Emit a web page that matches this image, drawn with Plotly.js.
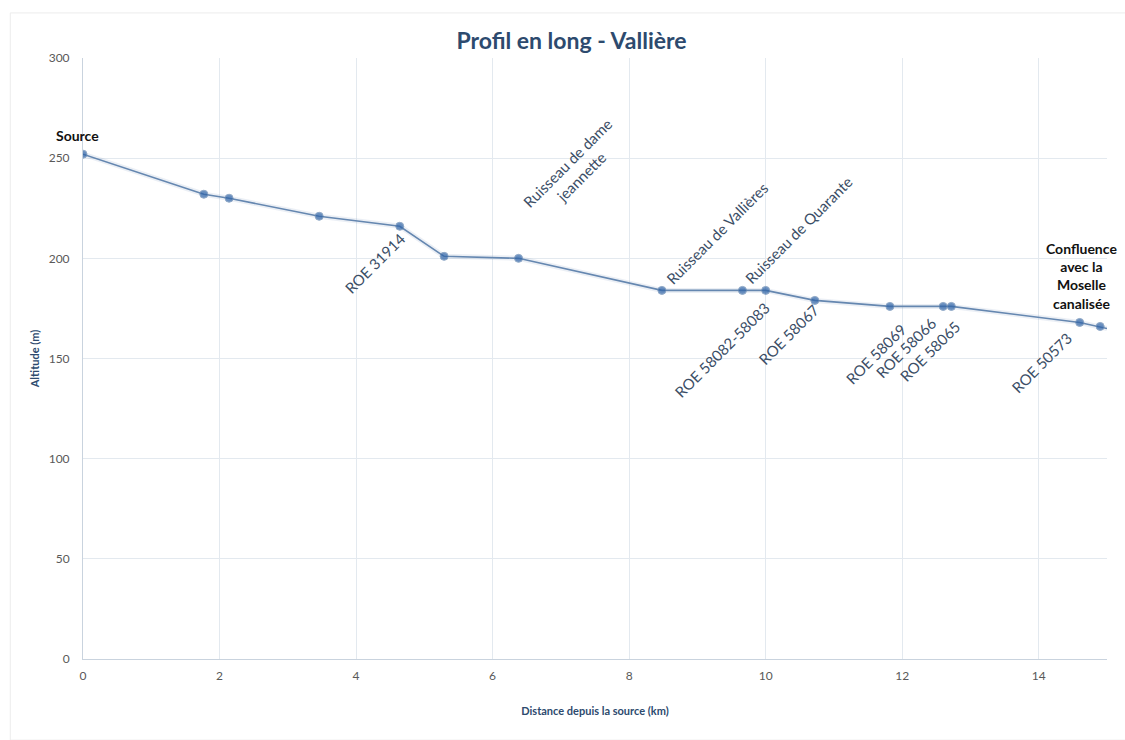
<!DOCTYPE html>
<html>
<head>
<meta charset="utf-8">
<script src="https://cdn.plot.ly/plotly-3.0.1.min.js"></script>
<style>html,body{margin:0;padding:0;background:#fff}#chart{width:1125px;height:740px}</style>
</head>
<body>
<div id="chart"></div>
<script>
// Data
const distanceKm = [0, 1.77, 2.14, 3.46, 4.64, 5.29, 6.38, 8.48, 9.66, 10.0, 10.72, 11.82, 12.6, 12.72, 14.6, 14.9, 15.0];
const altitudeM  = [252, 232, 230, 221, 216, 201, 200, 184, 184, 184, 179, 176, 176, 176, 168, 166, 165];
const pointLabels = ["Source", "", "", "", "ROE 31914", "", "Ruisseau de dame<br>jeannette", "Ruisseau de Vallières",
  "Ruisseau de Quarante", "ROE 58082-58083", "ROE 58067", "ROE 58069", "ROE 58066", "ROE 58065", "ROE 50573",
  "Confluence<br>avec la<br>Moselle<br>canalisée", ""];
const xTicks = [0, 2, 4, 6, 8, 10, 12, 14];
const yTicks = [0, 50, 100, 150, 200, 250, 300];

// placement style per label kind
const place = {
  "Source": {kind: "bold", xanchor: "center", yanchor: "bottom", xshift: -6, yshift: 8},
  "ROE 31914": {kind: "below", xshift: 12, yshift: 0},
  "Ruisseau de dame<br>jeannette": {kind: "above", xshift: -2, yshift: 30},
  "Ruisseau de Vallières": {kind: "above", xshift: -2, yshift: 0},
  "Ruisseau de Quarante": {kind: "above", xshift: -4, yshift: 0},
  "ROE 58082-58083": {kind: "below", xshift: 10, yshift: -6},
  "ROE 58067": {kind: "below", xshift: 11, yshift: 3},
  "ROE 58069": {kind: "below", xshift: 22, yshift: -11},
  "ROE 58066": {kind: "below", xshift: 0, yshift: -4},
  "ROE 58065": {kind: "below", xshift: 15, yshift: -8},
  "ROE 50573": {kind: "below", xshift: -2, yshift: -4},
  "Confluence<br>avec la<br>Moselle<br>canalisée": {kind: "bold", xanchor: "center", yanchor: "bottom", xshift: -19, yshift: 12}
};

const annotations = [];
pointLabels.forEach((t, i) => {
  if (!t) return;
  const p = place[t];
  const a = {x: distanceKm[i], y: altitudeM[i], xref: "x", yref: "y", text: t, showarrow: false,
    xshift: p.xshift, yshift: p.yshift};
  if (p.kind === "bold") {
    a.text = "<b>" + t + "</b>";
    a.xanchor = p.xanchor; a.yanchor = p.yanchor;
    a.font = {family: "Lato, 'Open Sans', sans-serif", size: 14, color: "#111111"};
    a.align = "center";
  } else {
    a.textangle = -45;
    a.font = {family: "Lato, 'Open Sans', sans-serif", size: 15, color: "#3b4e66"};
    if (p.kind === "below") { a.xanchor = "right"; a.yanchor = "top"; }
    else { a.xanchor = "left"; a.yanchor = "bottom"; }
    a.align = "center";
  }
  annotations.push(a);
});

const markerSizes = distanceKm.map((d, i) => i === distanceKm.length - 1 ? 0 : 8);

const trace = {
  x: distanceKm, y: altitudeM, type: "scatter", mode: "lines+markers",
  line: {color: "#6587b0", width: 1.6},
  marker: {color: "#2f64a8", size: markerSizes},
  hoverinfo: "x+y"
};
const shadow = {
  x: distanceKm, y: altitudeM, type: "scatter", mode: "lines",
  line: {color: "rgba(120,150,190,0.15)", width: 5}, hoverinfo: "skip"
};

const layout = {
  width: 1125, height: 740,
  margin: {l: 83, r: 18, t: 58, b: 81},
  paper_bgcolor: "#ffffff", plot_bgcolor: "#ffffff",
  showlegend: false,
  title: {text: "<b>Profil en long - Vallière</b>", x: 0.508, xanchor: "center", y: 0.944, yanchor: "middle",
    font: {family: "Lato, 'Open Sans', sans-serif", size: 23, color: "#2d4a6e"}},
  xaxis: {range: [0, 15], tickvals: xTicks, ticktext: xTicks.map(String), showgrid: true, gridcolor: "#e3e9ef",
    zeroline: false, showline: true, linecolor: "#c9d3de", linewidth: 1, ticks: "", ticklabelstandoff: 6,
    tickfont: {family: "Lato, 'Open Sans', sans-serif", size: 12, color: "#595959"},
    title: {text: "<b>Distance depuis la source (km)</b>", standoff: 24,
      font: {family: "Lato, 'Open Sans', sans-serif", size: 11, color: "#2d4a6e"}}},
  yaxis: {range: [0, 300], tickvals: yTicks, ticktext: yTicks.map(String), showgrid: true, gridcolor: "#e3e9ef",
    zeroline: false, showline: true, linecolor: "#c9d3de", linewidth: 1, ticks: "", ticklabelstandoff: 10,
    tickfont: {family: "Lato, 'Open Sans', sans-serif", size: 12, color: "#595959"},
    title: {text: "<b>Altitude (m)</b>", standoff: 6,
      font: {family: "Lato, 'Open Sans', sans-serif", size: 11, color: "#2d4a6e"}}},
  annotations: annotations,
  shapes: [{type: "rect", xref: "paper", yref: "paper", x0: -0.071, x1: 1.02, y0: -0.135, y1: 1.075,
    line: {color: "#ececec", width: 1}, fillcolor: "rgba(0,0,0,0)", layer: "below"}]
};

Plotly.newPlot("chart", [shadow, trace], layout, {displayModeBar: false, staticPlot: true});
</script>
</body>
</html>
